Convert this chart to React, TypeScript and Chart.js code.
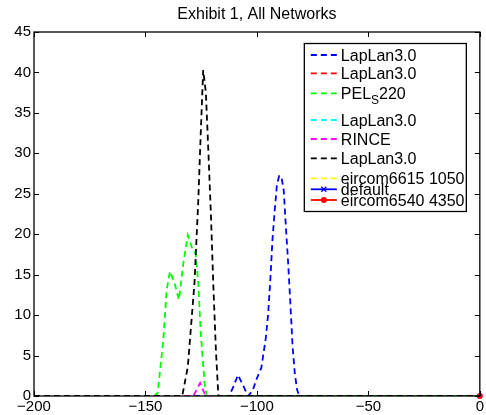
import React, { useEffect, useRef } from "react";
import { Chart, registerables } from "chart.js";

Chart.register(...registerables);

const TITLE = "Exhibit 1, All Networks";
const X_TICKS = [-200, -150, -100, -50, 0];
const Y_TICKS = [0, 5, 10, 15, 20, 25, 30, 35, 40, 45];

const SERIES_LABELS = [
  "LapLan3.0",
  "LapLan3.0",
  "PEL_S220",
  "LapLan3.0",
  "RINCE",
  "LapLan3.0",
  "eircom6615 1050",
  "default",
  "eircom6540 4350",
];
const SERIES_COLORS = ["#0000ff", "#ff0000", "#00ff00", "#00ffff", "#ff00ff", "#000000", "#ffff00", "#0000ff", "#ff0000"];

const blueX = [-200, -112.5, -110.5, -108.5, -106, -104, -102, -100, -98, -96, -95, -94, -93, -92, -91, -90, -89, -88, -87, -86, -85, -84, -83, -82, -81, 0];
const blueY = [0, 0, 1.2, 2.6, 1.2, 0, 0.6, 2.2, 3.5, 7.2, 10, 14.3, 19.4, 23, 26.2, 27.2, 27.1, 25.5, 20.9, 16.5, 11.5, 6.1, 2.8, 0.8, 0, 0];

const redX: number[] = [];
const redY: number[] = [];

const greenX = [-200, -146, -144.5, -142, -140.5, -139, -137, -135, -133, -131, -129, -127.5, -126.3, -125.2, -123.5, -122.5, 0];
const greenY = [0, 0, 0.4, 6.9, 13.1, 15.4, 14, 11.9, 16.4, 19.9, 18.2, 17.6, 14, 7.8, 1.6, 0, 0];

const cyanX: number[] = [];
const cyanY: number[] = [];

const magentaX = [-200, -128.5, -125.5, -123, 0];
const magentaY = [0, 0, 1.6, 0, 0];

const blackX = [-200, -133.5, -131, -128, -126.3, -125.2, -124.1, -122.9, -121.8, -120.6, -119.6, -118.4, -117.3, 0];
const blackY = [0, 0, 3.6, 14, 24.2, 32.5, 40.3, 37.5, 30.4, 22.2, 14, 5.7, 0, 0];

const yellowX: number[] = [];
const yellowY: number[] = [];

const defaultX = [0];
const defaultY = [0];

const eircomX = [0];
const eircomY = [0];

const SERIES_X = [blueX, redX, greenX, cyanX, magentaX, blackX, yellowX, defaultX, eircomX];
const SERIES_Y = [blueY, redY, greenY, cyanY, magentaY, blackY, yellowY, defaultY, eircomY];

const FONT = "Arial, 'Liberation Sans', Helvetica, sans-serif";
const DASH = [6, 4];
const SOLID_IDX = [7, 8];

const fmt = (v: number) => (v < 0 ? "\u2212" + Math.abs(v) : String(v));

const framePlugin = {
  id: "matlabFrame",
  afterDatasetsDraw(chart: any) {
    const ctx = chart.ctx as CanvasRenderingContext2D;
    const ca = chart.chartArea;
    const xs = chart.scales.x;
    const ys = chart.scales.y;
    ctx.save();
    ctx.setLineDash([]);
    ctx.strokeStyle = "#000";
    ctx.lineWidth = 1.3;
    ctx.strokeRect(ca.left, ca.top, ca.right - ca.left, ca.bottom - ca.top);
    ctx.lineWidth = 1;
    const tl = 5;
    ctx.beginPath();
    X_TICKS.forEach((v) => {
      const px = Math.round(xs.getPixelForValue(v)) + 0.5;
      ctx.moveTo(px, ca.bottom);
      ctx.lineTo(px, ca.bottom - tl);
      ctx.moveTo(px, ca.top);
      ctx.lineTo(px, ca.top + tl);
    });
    Y_TICKS.forEach((v) => {
      const py = Math.round(ys.getPixelForValue(v)) + 0.5;
      ctx.moveTo(ca.left, py);
      ctx.lineTo(ca.left + tl, py);
      ctx.moveTo(ca.right, py);
      ctx.lineTo(ca.right - tl, py);
    });
    ctx.stroke();

    // legend
    const bl = ca.right - 176;
    const bt = ca.top + 11;
    const bw = 162;
    const bh = 168;
    const rows = [12, 30.3, 50.3, 77, 96, 115.3, 135.3, 146.3, 157];
    ctx.fillStyle = "#fff";
    ctx.fillRect(bl, bt, bw, bh);
    ctx.strokeStyle = "#000";
    ctx.lineWidth = 1.3;
    ctx.strokeRect(bl + 0.5, bt + 0.5, bw, bh);
    SERIES_LABELS.forEach((label, i) => {
      const y = bt + rows[i];
      const color = SERIES_COLORS[i];
      ctx.strokeStyle = color;
      ctx.lineWidth = 1.8;
      ctx.setLineDash(SOLID_IDX.includes(i) ? [] : DASH);
      ctx.beginPath();
      ctx.moveTo(bl + 7, y);
      ctx.lineTo(bl + 33, y);
      ctx.stroke();
      ctx.setLineDash([]);
      const mx = bl + 20;
      if (i === 7) {
        ctx.lineWidth = 1.3;
        ctx.beginPath();
        ctx.moveTo(mx - 2.5, y - 2.5);
        ctx.lineTo(mx + 2.5, y + 2.5);
        ctx.moveTo(mx - 2.5, y + 2.5);
        ctx.lineTo(mx + 2.5, y - 2.5);
        ctx.stroke();
      } else if (i === 8) {
        ctx.fillStyle = color;
        ctx.beginPath();
        ctx.arc(mx, y, 3, 0, Math.PI * 2);
        ctx.fill();
      }
      ctx.fillStyle = "#000";
      ctx.textBaseline = "alphabetic";
      ctx.textAlign = "left";
      const tx = bl + 37;
      const base = y + 5.7;
      if (label.includes("_")) {
        const [a, rest] = label.split("_");
        const sub = rest.charAt(0);
        const tail = rest.slice(1);
        ctx.font = `16px ${FONT}`;
        ctx.fillText(a, tx, base);
        let cx = tx + ctx.measureText(a).width;
        ctx.font = `12px ${FONT}`;
        ctx.fillText(sub, cx, base + 5);
        cx += ctx.measureText(sub).width;
        ctx.font = `16px ${FONT}`;
        ctx.fillText(tail, cx, base);
      } else {
        ctx.font = `16px ${FONT}`;
        ctx.fillText(label, tx, base);
      }
    });

    // title
    ctx.fillStyle = "#000";
    ctx.font = `16px ${FONT}`;
    ctx.textAlign = "center";
    ctx.textBaseline = "alphabetic";
    ctx.fillText(TITLE, (ca.left + ca.right) / 2, 18.5);
    ctx.restore();
  },
};

export default function App() {
  const ref = useRef<HTMLCanvasElement>(null);
  useEffect(() => {
    document.body.style.margin = "0";
    const canvas = ref.current!;
    const datasets = SERIES_LABELS.map((label, i) => {
      const solid = SOLID_IDX.includes(i);
      return {
        label,
        data: SERIES_X[i].map((x, k) => ({ x, y: SERIES_Y[i][k] })),
        borderColor: SERIES_COLORS[i],
        backgroundColor: SERIES_COLORS[i],
        borderWidth: 1.8,
        borderDash: solid ? [] : DASH,
        pointRadius: i === 7 || i === 8 ? 3 : 0,
        pointStyle: i === 7 ? "crossRot" : "circle",
        pointBorderWidth: i === 7 ? 1.3 : 0,
        tension: 0,
        fill: false,
        order: SERIES_LABELS.length - i,
        clip: i >= 7 ? false : undefined,
      } as any;
    });
    const chart = new Chart(canvas, {
      type: "line",
      data: { datasets },
      options: {
        responsive: false,
        animation: false,
        devicePixelRatio: 1,
        layout: { padding: { top: 32, right: 6, left: 0, bottom: 0 } },
        plugins: { legend: { display: false }, title: { display: false }, tooltip: { enabled: false } },
        scales: {
          x: {
            type: "linear",
            min: -200,
            max: 0,
            afterBuildTicks: (s: any) => {
              s.ticks = X_TICKS.map((v) => ({ value: v }));
            },
            afterFit: (s: any) => {
              s.height = 19;
            },
            grid: { display: false, drawTicks: false },
            border: { display: false },
            ticks: {
              padding: 2,
              maxRotation: 0,
              autoSkip: false,
              color: "#000",
              font: { family: FONT, size: 15, lineHeight: 1.2 },
              callback: (v: any) => fmt(Number(v)),
            },
          },
          y: {
            type: "linear",
            min: 0,
            max: 45,
            afterBuildTicks: (s: any) => {
              s.ticks = Y_TICKS.map((v) => ({ value: v }));
            },
            afterFit: (s: any) => {
              s.width = 34;
            },
            grid: { display: false, drawTicks: false },
            border: { display: false },
            ticks: {
              padding: 3,
              autoSkip: false,
              color: "#000",
              font: { family: FONT, size: 15 },
              callback: (v: any) => fmt(Number(v)),
            },
          },
        },
      } as any,
      plugins: [framePlugin],
    });
    return () => chart.destroy();
  }, []);
  return (
    <div style={{ width: 486, height: 415 }}>
      <canvas ref={ref} width={486} height={415} style={{ display: "block", width: 486, height: 415 }} />
    </div>
  );
}
